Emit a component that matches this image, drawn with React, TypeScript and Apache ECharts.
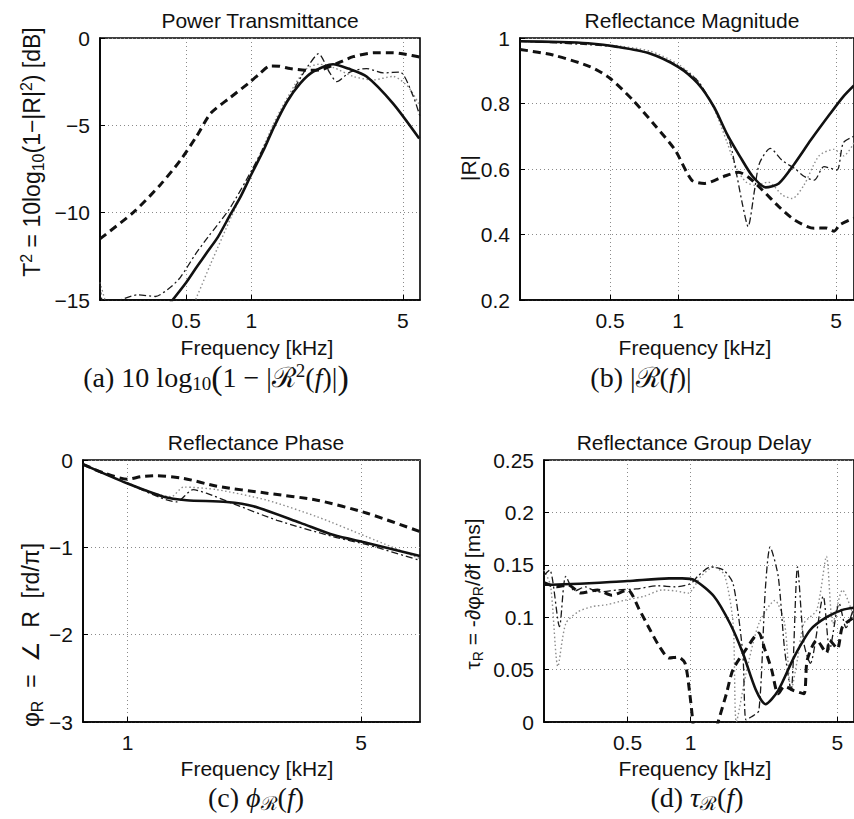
import React, { useEffect, useRef } from 'react';
import * as echarts from 'echarts';

const SANS = '"Liberation Sans", Arial, Helvetica, sans-serif';
const SERIF = '"Liberation Serif", "Times New Roman", serif';

// ---------- Panel (a): power transmittance [dB] ----------
const aSolidF = [0.42, 0.5, 0.56, 0.63, 0.7, 0.8, 0.89, 1.0, 1.14, 1.27, 1.46, 1.68, 1.93, 2.38, 2.8, 3.4, 4.5, 5.95];
const aSolidV = [-15.2, -14.0, -13.1, -12.2, -11.4, -10.1, -9.1, -7.8, -6.4, -5.1, -3.65, -2.6, -1.93, -1.5, -1.75, -2.2, -3.74, -5.75];
const aDashF = [0.2, 0.21, 0.29, 0.38, 0.47, 0.56, 0.65, 0.8, 0.99, 1.1, 1.22, 1.35, 1.51, 1.8, 2.07, 2.39, 2.95, 3.65, 4.5, 5.9, 6];
const aDashV = [-11.5, -11.3, -9.9, -8.4, -7.0, -5.6, -4.3, -3.4, -2.5, -2.0, -1.6, -1.62, -1.75, -1.85, -1.83, -1.55, -1.07, -0.85, -0.84, -1.07, -1.1];
const aDdF = [0.2, 0.21, 0.3, 0.36, 0.42, 0.47, 0.55, 0.63, 0.79, 1.0, 1.2, 1.45, 1.7, 1.85, 2.04, 2.3, 2.48, 2.85, 3.4, 4.06, 4.84, 5.57, 6];
const aDdV = [-14, -15.3, -14.7, -14.8, -14.3, -13.7, -12.4, -11.4, -9.8, -7.6, -5.7, -3.7, -2.2, -1.5, -0.9, -2.0, -2.5, -1.95, -1.75, -2.0, -1.95, -3.3, -4.5];
const aDotF = [0.2, 0.215, 0.23, 0.5, 0.56, 0.65, 0.81, 1.02, 1.29, 1.6, 1.8, 2.05, 2.4, 2.95, 3.65, 4.5, 5.3, 6];
const aDotV = [-14, -15.3, -16, -16, -14.8, -12.9, -10.2, -7.55, -4.7, -2.6, -1.75, -1.5, -1.7, -2.2, -2.4, -2.2, -2.8, -3.9];

// ---------- Panel (b): reflectance magnitude ----------
const bSolidF = [0.2, 0.3, 0.4, 0.54, 0.75, 1.0, 1.22, 1.44, 1.64, 1.88, 2.14, 2.44, 2.79, 3.28, 3.87, 4.72, 5.38, 6];
const bSolidV = [0.99, 0.988, 0.984, 0.973, 0.953, 0.912, 0.862, 0.79, 0.709, 0.638, 0.577, 0.544, 0.556, 0.617, 0.689, 0.77, 0.821, 0.855];
const bDashF = [0.2, 0.28, 0.41, 0.5, 0.63, 0.8, 0.97, 1.15, 1.31, 1.59, 1.85, 2.05, 2.36, 2.79, 3.28, 4.0, 4.5, 4.9, 5.2, 6];
const bDashV = [0.965, 0.948, 0.912, 0.877, 0.811, 0.729, 0.658, 0.566, 0.556, 0.577, 0.59, 0.575, 0.536, 0.485, 0.444, 0.419, 0.42, 0.41, 0.43, 0.45];
const bDdF = [0.2, 0.5, 0.75, 1.0, 1.22, 1.49, 1.7, 1.82, 1.93, 2.04, 2.18, 2.29, 2.56, 2.88, 3.3, 3.62, 4.0, 4.42, 5.04, 5.38, 6];
const bDdV = [0.99, 0.975, 0.953, 0.915, 0.87, 0.77, 0.678, 0.58, 0.49, 0.424, 0.536, 0.617, 0.663, 0.627, 0.6, 0.577, 0.566, 0.607, 0.597, 0.68, 0.7];
const bDotF = [0.2, 0.5, 0.75, 1.0, 1.22, 1.45, 1.65, 1.82, 2.0, 2.2, 2.5, 2.9, 3.2, 3.6, 4.2, 4.9, 5.4, 6];
const bDotV = [0.99, 0.978, 0.96, 0.92, 0.87, 0.78, 0.68, 0.6, 0.56, 0.55, 0.56, 0.52, 0.51, 0.55, 0.64, 0.66, 0.64, 0.68];

// ---------- Panel (c): reflectance phase [rd/pi] ----------
const cSolidF = [0.735, 1.0, 1.28, 1.5, 1.98, 2.38, 3.29, 4.14, 5.21, 7.5];
const cSolidV = [-0.05, -0.27, -0.42, -0.46, -0.48, -0.53, -0.72, -0.86, -0.95, -1.1];
const cDashF = [0.735, 0.85, 1.0, 1.1, 1.22, 1.47, 1.85, 2.61, 3.69, 5.21, 7.5];
const cDashV = [-0.05, -0.15, -0.22, -0.19, -0.18, -0.21, -0.3, -0.38, -0.46, -0.61, -0.82];
const cDdF = [0.735, 1.0, 1.25, 1.4, 1.57, 1.72, 2.07, 2.8, 4.14, 5.21, 7.5];
const cDdV = [-0.05, -0.27, -0.43, -0.48, -0.34, -0.38, -0.5, -0.69, -0.88, -0.97, -1.15];
const cDotF = [0.735, 1.0, 1.2, 1.35, 1.47, 1.85, 2.61, 3.69, 5.21, 7.5];
const cDotV = [-0.05, -0.26, -0.38, -0.42, -0.31, -0.34, -0.46, -0.65, -0.88, -1.13];

// ---------- Panel (d): reflectance group delay [ms] ----------
const dSolidF = [0.2, 0.21, 0.5, 0.79, 0.91, 1.05, 1.29, 1.54, 1.77, 2.04, 2.27, 2.61, 3.11, 3.72, 4.44, 5.29, 6];
const dSolidV = [0.131, 0.131, 0.1345, 0.137, 0.137, 0.135, 0.12, 0.094, 0.066, 0.031, 0.017, 0.03, 0.062, 0.088, 0.1, 0.107, 0.109];
const dDashF = [0.2, 0.23, 0.26, 0.3, 0.36, 0.42, 0.5, 0.57, 0.64, 0.71, 0.79, 0.87, 0.94, 0.99, 1.03, 1.2, 1.33, 1.36, 1.48, 1.59, 1.83, 2.11, 2.25, 2.43, 2.61, 2.8, 3.1, 3.46, 3.59, 3.99, 4.44, 4.59, 5.0, 5.29, 6];
const dDashV = [0.133, 0.129, 0.131, 0.123, 0.126, 0.121, 0.126, 0.107, 0.088, 0.072, 0.061, 0.062, 0.056, 0.027, -0.005, null, -0.005, 0.002, 0.027, 0.05, 0.069, 0.085, 0.07, 0.05, 0.027, 0.034, 0.03, 0.027, 0.059, 0.078, 0.066, 0.078, 0.07, 0.091, 0.1];
const dDdF = [0.2, 0.213, 0.237, 0.254, 0.28, 0.315, 0.36, 0.447, 0.55, 0.7, 0.844, 1.0, 1.08, 1.245, 1.433, 1.593, 1.771, 1.834, 1.95, 2.114, 2.267, 2.39, 2.612, 2.802, 3.008, 3.228, 3.462, 3.716, 4.28, 4.592, 5.1, 5.5, 6];
const dDdV = [0.14, 0.145, 0.091, 0.139, 0.125, 0.129, 0.124, 0.126, 0.127, 0.13, 0.129, 0.132, 0.139, 0.148, 0.145, 0.132, 0.0655, 0.002, 0.005, 0.011, 0.126, 0.167, 0.139, 0.069, 0.03, 0.148, 0.075, 0.056, 0.12, 0.069, 0.113, 0.09, 0.11];
const dDotF = [0.2, 0.215, 0.233, 0.254, 0.29, 0.337, 0.4, 0.48, 0.6, 0.733, 0.85, 0.972, 1.12, 1.289, 1.45, 1.593, 1.65, 1.834, 2.114, 2.52, 2.802, 3.008, 3.228, 3.462, 3.99, 4.436, 4.756, 5.29, 6];
const dDotV = [0.145, 0.13, 0.053, 0.094, 0.105, 0.11, 0.112, 0.116, 0.12, 0.126, 0.125, 0.123, 0.139, 0.148, 0.14, 0.094, 0.0, 0.046, 0.094, 0.116, 0.094, 0.03, 0.06, 0.094, 0.107, 0.158, 0.094, 0.126, 0.1];

// ---------- Axes ----------
const xTicks = [[0.5, 1, 5], [0.5, 1, 5], [1, 5], [0.5, 1, 5]];
const xRanges = [[0.2, 6], [0.2, 6], [0.735, 7.5], [0.2, 6]];
const yRanges = [[-15, 0, 5], [0.2, 1, 0.2], [-3, 0, 1], [0, 0.25, 0.05]];
const titles = ['Power Transmittance', 'Reflectance Magnitude', 'Reflectance Phase', 'Reflectance Group Delay'];
const xName = 'Frequency [kHz]';

const panelSeries = [
  [[aDotF, aDotV], [aDdF, aDdV], [aDashF, aDashV], [aSolidF, aSolidV]],
  [[bDotF, bDotV], [bDdF, bDdV], [bDashF, bDashV], [bSolidF, bSolidV]],
  [[cDotF, cDotV], [cDdF, cDdV], [cDashF, cDashV], [cSolidF, cSolidV]],
  [[dDotF, dDotV], [dDdF, dDdV], [dDashF, dDashV], [dSolidF, dSolidV]],
];

const GRIDS = [
  { left: 100, top: 38, width: 320, height: 262 },
  { left: 520, top: 38, width: 344, height: 262 },
  { left: 83, top: 460, width: 337, height: 262 },
  { left: 544, top: 460, width: 321, height: 262 },
];

const LINE_STYLES = [
  { color: '#8c8c8c', width: 1.4, type: [1.5, 2.5] },
  { color: '#1a1a1a', width: 1.3, type: [7, 3, 2, 3] },
  { color: '#111', width: 3, type: [8, 5] },
  { color: '#111', width: 2.6, type: 'solid' },
];

function pairs(f: number[], v: (number | null)[]) {
  return f.map((x, i) => [x, v[i] === null ? '-' : v[i]]);
}

function fmtNum(v: number) {
  return String(+Number(v).toFixed(3)).replace('-', '\u2212');
}

const INK = '#111';

function txt(x: number, y: number, text: string, fontSize: number, family: string, extra: any = {}) {
  return {
    type: 'text',
    x,
    y,
    silent: true,
    ...extra,
    style: {
      text,
      fill: INK,
      fontSize,
      fontFamily: family,
      align: 'center',
      verticalAlign: 'middle',
      textAlign: 'center',
      textVerticalAlign: 'middle',
      ...(extra.style || {}),
    },
  };
}

const yRich = {
  m: { fontSize: 23, fontFamily: SANS, fill: INK, lineHeight: 28 },
  sup: { fontSize: 16, fontFamily: SANS, fill: INK, lineHeight: 16, verticalAlign: 'top' },
  sub: { fontSize: 16, fontFamily: SANS, fill: INK, lineHeight: 16, verticalAlign: 'bottom' },
};

const yRichSmall = {
  m: { fontSize: 21, fontFamily: SANS, fill: INK, lineHeight: 26 },
  sub: { fontSize: 14, fontFamily: SANS, fill: INK, lineHeight: 14, verticalAlign: 'bottom' },
};

const capRich = {
  r: { fontSize: 28, fontFamily: SERIF, fill: INK, lineHeight: 32 },
  i: { fontSize: 28, fontFamily: SERIF, fontStyle: 'italic', fill: INK, lineHeight: 32 },
  s: { fontSize: 19, fontFamily: SERIF, fill: INK, lineHeight: 19, verticalAlign: 'bottom' },
  p: { fontSize: 19, fontFamily: SERIF, fill: INK, lineHeight: 19, verticalAlign: 'top' },
  b: { fontSize: 34, fontFamily: SERIF, fill: INK, lineHeight: 32 },
};

export default function App() {
  const ref = useRef<HTMLDivElement>(null);

  useEffect(() => {
    if (!ref.current) return;
    const chart = echarts.init(ref.current, undefined, { renderer: 'svg' });

    const grid = GRIDS.map((g) => ({
      ...g,
      show: true,
      borderColor: '#000',
      borderWidth: 1.6,
      backgroundColor: 'transparent',
    }));

    const xAxis = GRIDS.map((_, i) => ({
      type: 'log',
      logBase: 10,
      gridIndex: i,
      min: xRanges[i][0],
      max: xRanges[i][1],
      axisLine: { show: true, onZero: false, lineStyle: { color: '#000', width: 1.6 } },
      axisTick: { show: true, inside: true, length: 5, customValues: xTicks[i], lineStyle: { color: '#000' } },
      axisLabel: {
        customValues: xTicks[i],
        formatter: (v: number) => String(+Number(v).toPrecision(3)),
        fontSize: 21,
        fontFamily: SANS,
        color: INK,
        margin: 10,
      },
      splitLine: { show: true, lineStyle: { color: '#8a8a8a', width: 1, type: [1, 3] } },
      minorTick: { show: false },
      minorSplitLine: { show: false },
    }));

    const yAxis = GRIDS.map((_, i) => ({
      type: 'value',
      gridIndex: i,
      min: yRanges[i][0],
      max: yRanges[i][1],
      interval: yRanges[i][2],
      axisLine: { show: true, onZero: false, lineStyle: { color: '#000', width: 1.6 } },
      axisTick: { show: true, inside: true, length: 5, lineStyle: { color: '#000' } },
      axisLabel: { formatter: fmtNum, fontSize: 21, fontFamily: SANS, color: INK, margin: 10 },
      splitLine: { show: true, lineStyle: { color: '#8a8a8a', width: 1, type: [1, 3] } },
    }));

    const series: any[] = [];
    panelSeries.forEach((list, p) => {
      list.forEach(([f, v], k) => {
        series.push({
          type: 'line',
          xAxisIndex: p,
          yAxisIndex: p,
          data: pairs(f as number[], v as (number | null)[]),
          showSymbol: false,
          symbol: 'none',
          smooth: 0.25,
          clip: true,
          connectNulls: false,
          lineStyle: LINE_STYLES[k],
          z: 2 + k,
          silent: true,
        });
      });
    });

    const graphic: any[] = [
      txt(260, 20, titles[0], 21, SANS),
      txt(692, 20, titles[1], 21, SANS),
      txt(256, 442, titles[2], 21, SANS),
      txt(694, 442, titles[3], 21, SANS),
      txt(257, 347, xName, 21, SANS),
      txt(695, 347, xName, 21, SANS),
      txt(257, 768, xName, 21, SANS),
      txt(695, 768, xName, 21, SANS),
      txt(32, 152, '{m|T}{sup|2}{m| = 10log}{sub|10}{m|(1\u2212|R|}{sup|2}{m|) [dB]}', 23, SANS, {
        rotation: Math.PI / 2,
        style: { rich: yRich },
      }),
      txt(468, 168, '|R|', 21, SANS, { rotation: Math.PI / 2 }),
      txt(31, 635, '{m|\u03c6}{sub|R}{m|  =  \u2220  R  [rd/\u03c0]}', 23, SANS, {
        rotation: Math.PI / 2,
        style: { rich: yRich },
      }),
      txt(472, 594, '{m|\u03c4}{sub|R}{m| = -\u2202\u03c6}{sub|R}{m|/\u2202f [ms]}', 21, SANS, {
        rotation: Math.PI / 2,
        style: { rich: yRichSmall },
      }),
      txt(216, 377, '{r|(a) 10 log}{s|10}{b|(}{r|1 \u2212 |\u211b}{p|2}{r|(}{i|f}{r|)|}{b|)}', 28, SERIF, {
        style: { rich: capRich },
      }),
      txt(641, 377, '{r|(b) |\u211b(}{i|f}{r|)|}', 28, SERIF, { style: { rich: capRich } }),
      txt(256, 797, '{r|(c) }{i|\u03d5}{s|\u211b}{r|(}{i|f}{r|)}', 28, SERIF, { style: { rich: capRich } }),
      txt(697, 797, '{r|(d) }{i|\u03c4}{s|\u211b}{r|(}{i|f}{r|)}', 28, SERIF, { style: { rich: capRich } }),
    ];

    chart.setOption({
      animation: false,
      backgroundColor: '#fff',
      grid,
      xAxis,
      yAxis,
      series,
      graphic,
    });

    return () => chart.dispose();
  }, []);

  return (
    <div
      ref={ref}
      style={{ position: 'absolute', left: 0, top: 0, width: 854, height: 819, background: '#fff' }}
    />
  );
}
